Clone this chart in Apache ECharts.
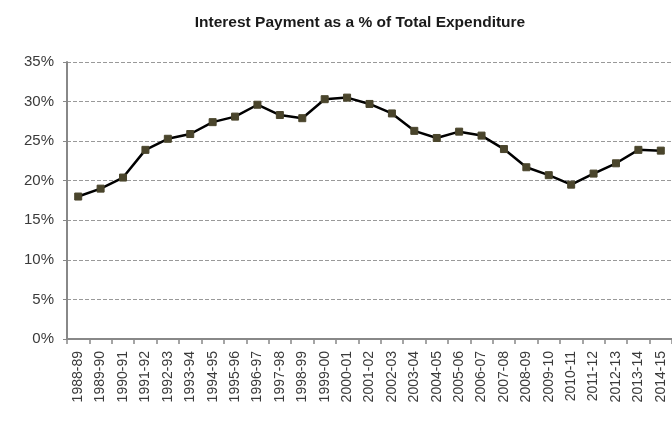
<!DOCTYPE html>
<html>
<head>
<meta charset="utf-8">
<script src="https://cdn.jsdelivr.net/npm/echarts@6/dist/echarts.min.js"></script>
<style>
  html, body { margin: 0; padding: 0; background: #fff; }
  #main { width: 672px; height: 441px; }
</style>
</head>
<body>
<div id="main"></div>
<script>
const years = ['1988-89', '1989-90', '1990-91', '1991-92', '1992-93', '1993-94', '1994-95',
  '1995-96', '1996-97', '1997-98', '1998-99', '1999-00', '2000-01', '2001-02', '2002-03',
  '2003-04', '2004-05', '2005-06', '2006-07', '2007-08', '2008-09', '2009-10', '2010-11',
  '2011-12', '2012-13', '2013-14', '2014-15'];
const interestShare = [18.0, 19.0, 20.4, 23.9, 25.3, 25.9, 27.4, 28.1, 29.6, 28.3, 27.9, 30.3,
  30.5, 29.7, 28.5, 26.3, 25.4, 26.2, 25.7, 24.0, 21.7, 20.7, 19.5, 20.9, 22.2, 23.9, 23.8];

const labelFont = '"Liberation Sans Narrow", "Arial Narrow", "Liberation Sans", sans-serif';

const myChart = echarts.init(document.getElementById('main'));

const option = {
  animation: false,
  title: {
    text: 'Interest Payment as a % of Total Expenditure',
    left: 355,
    textAlign: 'center',
    top: 10,
    textStyle: { fontFamily: labelFont, fontSize: 15.5, fontWeight: 'bold', color: '#1a1a1a' }
  },
  grid: { left: 67, top: 62, right: -7, bottom: 102 },
  xAxis: {
    type: 'category',
    data: years,
    boundaryGap: true,
    axisLine: { lineStyle: { color: '#888', width: 2 } },
    axisTick: { show: true, length: 5, lineStyle: { color: '#888', width: 1.5 } },
    axisLabel: {
      rotate: 90,
      interval: 0,
      margin: 12,
      fontFamily: labelFont,
      fontSize: 14,
      color: '#3a3a3a'
    }
  },
  yAxis: {
    type: 'value',
    min: 0,
    max: 35,
    interval: 5,
    axisLine: { show: true, lineStyle: { color: '#888', width: 2 } },
    axisTick: { show: true, length: 4, lineStyle: { color: '#888' } },
    axisLabel: {
      formatter: '{value}%',
      margin: 13,
      fontFamily: labelFont,
      fontSize: 15,
      color: '#3a3a3a'
    },
    splitLine: { lineStyle: { color: '#999', type: [4, 2], width: 1 } }
  },
  series: [
    {
      type: 'line',
      data: interestShare,
      symbol: 'rect',
      symbolSize: 7,
      lineStyle: { color: '#000', width: 2.5 },
      itemStyle: { color: '#4a452c', borderColor: '#4a452c' }
    }
  ]
};

myChart.setOption(option);
</script>
</body>
</html>
